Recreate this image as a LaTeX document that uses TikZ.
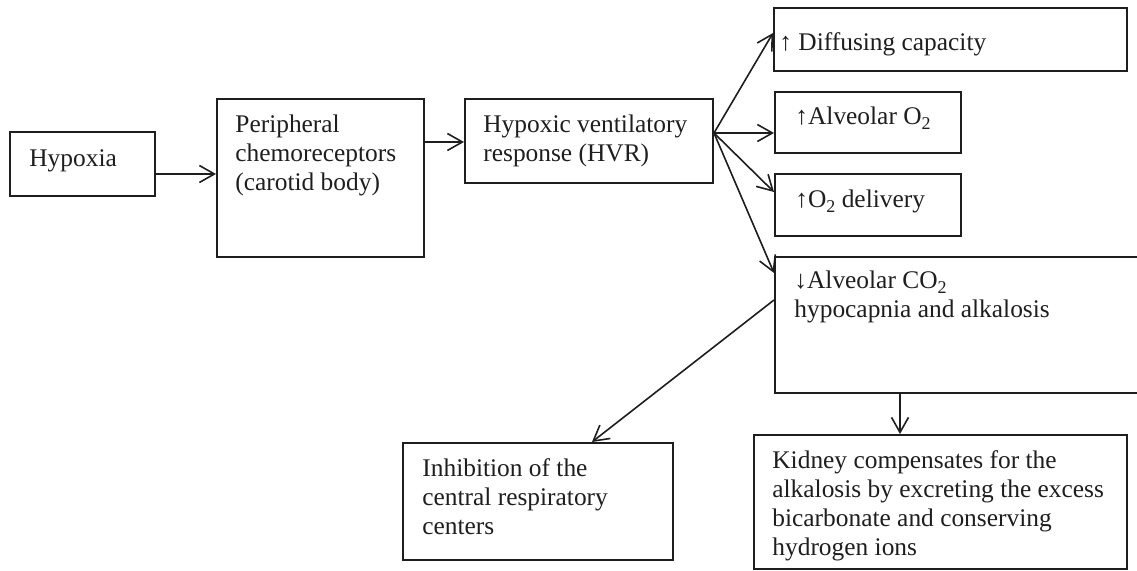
\documentclass[tikz,border=0pt]{standalone}
\usepackage{fontspec}
\setmainfont{Liberation Serif}
\usetikzlibrary{arrows.meta,fit}
\definecolor{ink}{HTML}{1E1E1E}
% left-aligned block of lines whose baseline is the first line
\newcommand{\stack}[1]{\begin{tabular}[t]{@{}l@{}}#1\end{tabular}}
% lowered subscript as set in the chart
\newcommand{\lowsub}[1]{\raisebox{-0.35ex}{\fontsize{9}{9}\selectfont #1}}
\begin{document}
\begin{tikzpicture}[x=0.5pt,y=-0.5pt,
  box/.style={draw=ink,line width=1pt,inner sep=0pt},
  txt/.style={inner sep=0pt,anchor=base west,text=ink,
    font=\fontsize{12.7}{14.5}\selectfont},
  arr/.style={draw=ink,line width=0.8pt,
    -{Straight Barb[length=7.5pt,width=8.5pt,line width=0.8pt]}}]
\useasboundingbox (0,0) rectangle (1137,571);
\clip (0,0) rectangle (1137,571);

% boxes
\node[box,fit={(10,132) (155,196)}] (hyp) {};
\node[box,fit={(217,99) (424,257)}] (per) {};
\node[box,fit={(465,99) (713,183)}] (hvr) {};
\node[box,fit={(774,8) (1127,71)}] (dif) {};
\node[box,fit={(775,92) (961,153)}] (alo) {};
\node[box,fit={(775,174) (961,236)}] (o2d) {};
\node[box,fit={(775,257) (1142,393)}] (co2) {};
\node[box,fit={(403,443) (673,560)}] (inh) {};
\node[box,fit={(754,435) (1127,569)}] (kid) {};

% texts
\node[txt] (hypT) at (29,167) {Hypoxia};
\node[txt] (perT) at (235,133) {\stack{Peripheral\\chemoreceptors\\(carotid body)}};
\node[txt] (hvrT) at (483,133) {\stack{Hypoxic ventilatory\\response (HVR)}};
\node[txt] (difT) at (779,51) {↑ Diffusing capacity};
\node[txt] (aloT) at (795,125) {↑Alveolar O\lowsub{2}};
\node[txt] (o2dT) at (795,208) {↑O\lowsub{2} delivery};
\node[txt] (co2T) at (794,289) {\stack{↓Alveolar CO\lowsub{2}\\hypocapnia and alkalosis}};
\node[txt] (inhT) at (422,477) {\stack{Inhibition of the\\central respiratory\\centers}};
\node[txt] (kidT) at (772,469) {\stack{Kidney compensates for the\\alkalosis by excreting the excess\\bicarbonate and conserving\\hydrogen ions}};

% connectors
\coordinate (fan) at (hvr.east |- 0,133);
\draw[arr] (hyp.east |- 0,174) -- (per.west |- 0,174);
\draw[arr] (per.east |- 0,142) -- (hvr.west |- 0,142);
\draw[arr] (fan) -- (dif.west |- 0,33);
\draw[arr] (fan) -- (alo.west |- 0,133);
\draw[arr] (fan) -- (o2d.west |- 0,192);
\draw[arr] (fan) -- (co2.west |- 0,273);
\draw[arr] (co2.west |- 0,300) -- (592,0 |- inh.north);
\draw[arr] (900,0 |- co2.south) -- (900,0 |- kid.north);
\end{tikzpicture}
\end{document}
